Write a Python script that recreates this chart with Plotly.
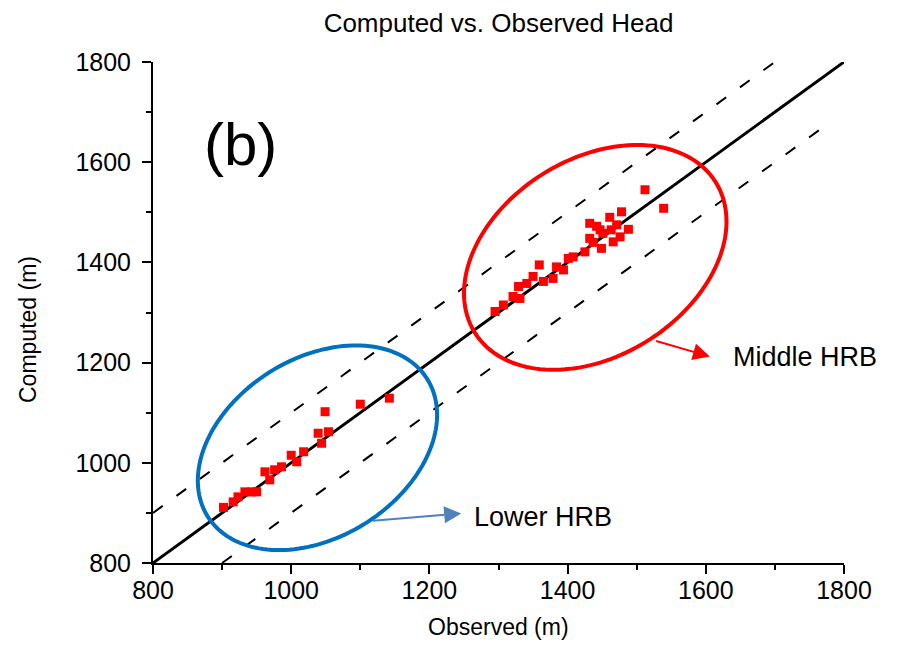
import numpy as np
import plotly.graph_objects as go

# ---------------- data ----------------
observed_lower = [902, 916, 923, 933, 943, 950, 962, 969, 976, 986, 1000, 1008,
                  1018, 1039, 1044, 1054, 1049, 1100, 1142]
computed_lower = [911, 922, 932, 942, 942, 942, 982, 966, 986, 992, 1015, 1002,
                  1022, 1059, 1039, 1062, 1102, 1117, 1129]

observed_middle = [1295, 1307, 1321, 1331, 1329, 1341, 1350, 1359, 1365, 1379, 1384,
                   1394, 1401, 1408, 1425, 1432, 1432, 1442, 1449, 1451, 1461, 1463,
                   1466, 1476, 1478, 1488, 1447, 1471, 1437, 1512, 1539]
computed_middle = [1302, 1315, 1332, 1328, 1352, 1358, 1372, 1395, 1362, 1368, 1391,
                   1385, 1408, 1411, 1421, 1448, 1478, 1472, 1428, 1458, 1490, 1465,
                   1441, 1451, 1501, 1466, 1465, 1475, 1440, 1545, 1508]

one_to_one_x = [800, 1800]
one_to_one_y = [800, 1800]
upper_band_x = [800, 1700]
upper_band_y = [900, 1800]
lower_band_x = [900, 1770]
lower_band_y = [800, 1670]

x_ticks = [800, 1000, 1200, 1400, 1600, 1800]
y_ticks = [800, 1000, 1200, 1400, 1600, 1800]

# ---------------- geometry ----------------
# page has an 8px body margin, so the figure is sized to fit inside the window
W, H = 881, 632
ML, MR, MT, MB = 145, 45, 54, 77
XR = [800, 1800]
YR = [800, 1800]
PW = W - ML - MR
PH = H - MT - MB
sx = PW / (XR[1] - XR[0])   # px per unit
sy = PH / (YR[1] - YR[0])


def ellipse_path(cx, cy, a_px, b_px, theta_deg, n=160):
    th = np.deg2rad(theta_deg)
    t = np.linspace(0, 2 * np.pi, n)
    dx = a_px * np.cos(th) * np.cos(t) - b_px * np.sin(th) * np.sin(t)
    dy = a_px * np.sin(th) * np.cos(t) + b_px * np.cos(th) * np.sin(t)
    xs = cx + dx / sx
    ys = cy + dy / sy
    p = "M %.3f,%.3f " % (xs[0], ys[0])
    p += " ".join("L %.3f,%.3f" % (x, y) for x, y in zip(xs[1:], ys[1:]))
    return p + " Z"


fig = go.Figure()

fig.add_trace(go.Scatter(x=one_to_one_x, y=one_to_one_y, mode="lines",
                         line=dict(color="black", width=3), showlegend=False))
fig.add_trace(go.Scatter(x=upper_band_x, y=upper_band_y, mode="lines",
                         line=dict(color="black", width=2, dash="12px,17px"), showlegend=False))
fig.add_trace(go.Scatter(x=lower_band_x, y=lower_band_y, mode="lines",
                         line=dict(color="black", width=2, dash="12px,17px"), showlegend=False))

fig.add_trace(go.Scatter(x=observed_lower, y=computed_lower, mode="markers",
                         marker=dict(symbol="square", size=9, color="#ff0000"),
                         showlegend=False))
fig.add_trace(go.Scatter(x=observed_middle, y=computed_middle, mode="markers",
                         marker=dict(symbol="square", size=9, color="#ff0000"),
                         showlegend=False))

fig.add_shape(type="path", xref="x", yref="y",
              path=ellipse_path(1038, 1030, 129.5, 89.5, 32),
              line=dict(color="#0070C0", width=4))
fig.add_shape(type="path", xref="x", yref="y",
              path=ellipse_path(1440, 1410, 142, 98.5, 32),
              line=dict(color="#ff0000", width=4))

font = "Liberation Sans, Arial, sans-serif"

fig.add_annotation(x=1246, y=899, ax=1116, ay=884, xref="x", yref="y",
                   axref="x", ayref="y", text="", showarrow=True,
                   arrowhead=2, arrowsize=1.7, arrowwidth=2, arrowcolor="#4F81BD")
fig.add_annotation(x=1606, y=1212, ax=1526, ay=1244, xref="x", yref="y",
                   axref="x", ayref="y", text="", showarrow=True,
                   arrowhead=2, arrowsize=1.7, arrowwidth=2, arrowcolor="#ff0000")
fig.add_annotation(x=1261, y=892, xref="x", yref="y", text="Lower HRB",
                   showarrow=False, xanchor="left", yanchor="middle",
                   font=dict(family=font, size=27, color="black"))
fig.add_annotation(x=1637, y=1211, xref="x", yref="y", text="Middle HRB",
                   showarrow=False, xanchor="left", yanchor="middle",
                   font=dict(family=font, size=27, color="black"))
fig.add_annotation(x=926, y=1636, xref="x", yref="y", text="(b)",
                   showarrow=False, xanchor="center", yanchor="middle",
                   font=dict(family=font, size=60, color="black"))

# axis titles as annotations for exact placement (paper coords relative to plot area)
fig.add_annotation(x=0.5, y=-(619 - (H - MB)) / PH,
                   xref="paper", yref="paper", text="Observed (m)", showarrow=False,
                   xanchor="center", yanchor="middle",
                   font=dict(family=font, size=23, color="black"))
fig.add_annotation(x=-(ML - 20) / PW, y=((H - MB) - 322) / PH,
                   xref="paper", yref="paper", text="Computed (m)", showarrow=False,
                   textangle=-90, xanchor="center", yanchor="middle",
                   font=dict(family=font, size=23, color="black"))

axis_common = dict(showline=True, linecolor="black", linewidth=2, showgrid=False,
                   zeroline=False, ticks="outside", ticklen=9, tickwidth=2,
                   tickcolor="black", tickfont=dict(family=font, size=25, color="black"),
                   minor=dict(ticks="outside", ticklen=5, tickwidth=2, tickcolor="black",
                              dtick=100, showgrid=False))

fig.update_layout(
    width=W, height=H,
    margin=dict(l=ML, r=MR, t=MT, b=MB),
    plot_bgcolor="white", paper_bgcolor="white",
    title=dict(text="Computed vs. Observed Head", x=(ML + (W - MR)) / 2 / W,
               xanchor="center", y=1 - 15 / H, yanchor="middle",
               font=dict(family=font, size=26, color="black")),
    xaxis=dict(range=XR, tickvals=x_ticks, ticklabelstandoff=-5, **axis_common),
    yaxis=dict(range=YR, tickvals=y_ticks, ticklabelstandoff=6, **axis_common),
)

fig.write_html("out.html")
